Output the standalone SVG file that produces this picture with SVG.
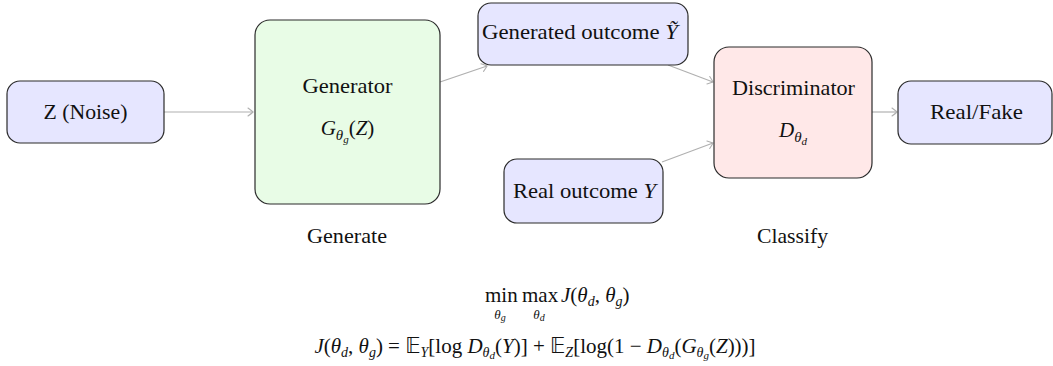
<svg xmlns="http://www.w3.org/2000/svg" width="1053" height="366" viewBox="0 0 1053 366">
  <defs>
    <marker id="arrowTo" viewBox="-6 -5 8 10" markerWidth="8" markerHeight="10" refX="0" refY="0" orient="auto" markerUnits="userSpaceOnUse">
      <path d="M -5,-4 Q -1.2,-1.2 0,0 Q -1.2,1.2 -5,4" fill="none" stroke="#b0b0b0" stroke-width="1.1" stroke-linecap="round"/>
    </marker>
  </defs>
  <style>
    .box { stroke: #2b2b2b; stroke-width: 1.2; }
    .blue { fill: #e6e6ff; }
    .green { fill: #e8fce6; }
    .red { fill: #ffe8e8; }
    .lbl { font-family: "Liberation Serif", "DejaVu Serif", serif; font-size: 21px; fill: #111; text-anchor: middle; }
    .it { font-style: italic; }
    .math { font-family: "Liberation Serif", "DejaVu Serif", serif; font-size: 21px; fill: #111; }
    .bb { font-family: "DejaVu Sans", sans-serif; font-style: normal; }
    .edge { stroke: #b0b0b0; stroke-width: 1.2; fill: none; marker-end: url(#arrowTo); }
  </style>
  <rect width="1053" height="366" fill="#fff"/>

  <!-- connectors -->
  <g id="connectors">
    <line class="edge" x1="164" y1="112" x2="253" y2="112"/>
    <line class="edge" x1="440" y1="82" x2="487" y2="66"/>
    <line class="edge" x1="668" y1="65" x2="713" y2="82"/>
    <line class="edge" x1="662" y1="162" x2="713" y2="143"/>
    <line class="edge" x1="872" y1="112" x2="897" y2="112"/>
  </g>

  <g id="noise">
    <rect class="box blue" x="7" y="81" width="157" height="62" rx="13"/>
    <text class="lbl" x="85.5" y="119" textLength="84" lengthAdjust="spacingAndGlyphs">Z (Noise)</text>
  </g>

  <g id="generator">
    <rect class="box green" x="255" y="20" width="185" height="184" rx="15"/>
    <text class="lbl" x="347.5" y="93" textLength="90" lengthAdjust="spacingAndGlyphs">Generator</text>
    <text class="lbl" x="347.5" y="135"><tspan class="it">G</tspan><tspan class="it" font-size="15" dy="5">θ</tspan><tspan class="it" font-size="11" dy="3">g</tspan><tspan dy="-8">(</tspan><tspan class="it">Z</tspan>)</text>
  </g>

  <g id="generated-outcome">
    <rect class="box blue" x="478" y="3" width="210" height="62" rx="13"/>
    <text class="lbl" x="580" y="39" textLength="196" lengthAdjust="spacingAndGlyphs">Generated outcome <tspan class="it">Ỹ</tspan></text>
  </g>

  <g id="real-outcome">
    <rect class="box blue" x="504" y="159" width="159" height="64" rx="13"/>
    <text class="lbl" x="584.5" y="198" textLength="143" lengthAdjust="spacingAndGlyphs">Real outcome <tspan class="it">Y</tspan></text>
  </g>

  <g id="discriminator">
    <rect class="box red" x="714" y="47" width="158" height="131" rx="15"/>
    <text class="lbl" x="793.5" y="95" textLength="123" lengthAdjust="spacingAndGlyphs">Discriminator</text>
    <text class="lbl" x="793" y="137"><tspan class="it">D</tspan><tspan class="it" font-size="15" dy="5">θ</tspan><tspan class="it" font-size="11" dy="3">d</tspan></text>
  </g>

  <g id="real-fake">
    <rect class="box blue" x="898" y="81" width="154" height="63" rx="13"/>
    <text class="lbl" x="976.5" y="119" textLength="93" lengthAdjust="spacingAndGlyphs">Real/Fake</text>
  </g>

  <!-- stage captions -->
  <text class="lbl" x="347" y="243" textLength="80" lengthAdjust="spacingAndGlyphs">Generate</text>
  <text class="lbl" x="792.5" y="243" textLength="71" lengthAdjust="spacingAndGlyphs">Classify</text>

  <!-- objective -->
  <g id="objective" class="math">
    <text x="485" y="302">min</text>
    <text x="500" y="319" font-size="13" text-anchor="middle" font-style="italic">θ<tspan font-size="10" dy="2">g</tspan></text>
    <text x="522" y="302">max</text>
    <text x="539" y="319" font-size="13" text-anchor="middle" font-style="italic">θ<tspan font-size="10" dy="2">d</tspan></text>
    <text x="561" y="302"><tspan class="it">J</tspan>(<tspan class="it">θ</tspan><tspan class="it" font-size="14" dy="4">d</tspan><tspan dy="-4">, </tspan><tspan class="it">θ</tspan><tspan class="it" font-size="14" dy="4">g</tspan><tspan dy="-4">)</tspan></text>

    <text x="535" y="353" text-anchor="middle"><tspan class="it">J</tspan>(<tspan class="it">θ</tspan><tspan class="it" font-size="14" dy="4">d</tspan><tspan dy="-4">, </tspan><tspan class="it">θ</tspan><tspan class="it" font-size="14" dy="4">g</tspan><tspan dy="-4">) = </tspan><tspan class="bb">𝔼</tspan><tspan class="it" font-size="14" dy="4">Y</tspan><tspan dy="-4">[log </tspan><tspan class="it">D</tspan><tspan class="it" font-size="14" dy="4">θ</tspan><tspan class="it" font-size="11" dy="2">d</tspan><tspan dy="-6">(</tspan><tspan class="it">Y</tspan>)] + <tspan class="bb">𝔼</tspan><tspan class="it" font-size="14" dy="4">Z</tspan><tspan dy="-4">[log(1 − </tspan><tspan class="it">D</tspan><tspan class="it" font-size="14" dy="4">θ</tspan><tspan class="it" font-size="11" dy="2">d</tspan><tspan dy="-6">(</tspan><tspan class="it">G</tspan><tspan class="it" font-size="14" dy="4">θ</tspan><tspan class="it" font-size="11" dy="2">g</tspan><tspan dy="-6">(</tspan><tspan class="it">Z</tspan>)))]</text>
  </g>
</svg>
